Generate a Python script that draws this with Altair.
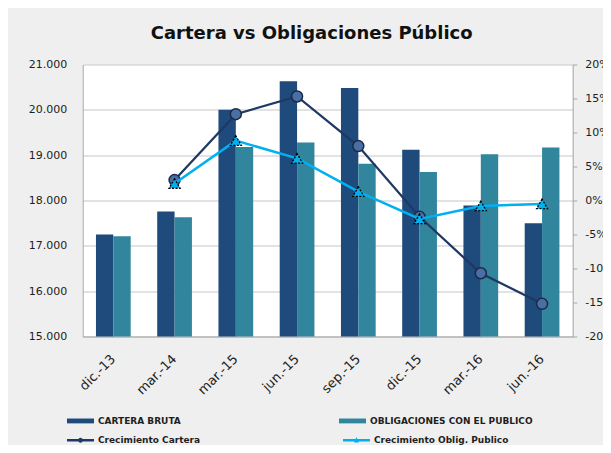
import altair as alt
import pandas as pd

categorias = ["dic.-13", "mar.-14", "mar.-15", "jun.-15", "sep.-15", "dic.-15", "mar.-16", "jun.-16"]
cartera_bruta = [17250, 17760, 20000, 20630, 20480, 19120, 17890, 17500]
obligaciones = [17210, 17630, 19180, 19280, 18810, 18630, 19020, 19170]
crec_cartera = [None, 0.030, 0.127, 0.153, 0.080, -0.024, -0.107, -0.152]
crec_oblig = [None, 0.025, 0.088, 0.062, 0.013, -0.027, -0.008, -0.005]
series_barras = ["CARTERA BRUTA", "OBLIGACIONES CON EL PUBLICO"]
series_lineas = ["Crecimiento Cartera", "Crecimiento Oblig. Publico"]
ticks_izq = [15000, 16000, 17000, 18000, 19000, 20000, 21000]
ticks_der = [-0.20, -0.15, -0.10, -0.05, 0.0, 0.05, 0.10, 0.15, 0.20]

bars_df = pd.DataFrame({
    "cat": categorias * 2,
    "serie": [series_barras[0]] * len(categorias) + [series_barras[1]] * len(categorias),
    "valor": cartera_bruta + obligaciones,
})
lines_df = pd.DataFrame({
    "cat": categorias * 2,
    "serie": [series_lineas[0]] * len(categorias) + [series_lineas[1]] * len(categorias),
    "pct": crec_cartera + crec_oblig,
}).dropna()

FONT = "DejaVu Sans"
TXT = "#1e1e1e"

x_enc = alt.X(
    "cat:N", sort=categorias,
    scale=alt.Scale(paddingInner=0.433, paddingOuter=0.2165),
    axis=alt.Axis(title=None, labelAngle=-45, labelAlign="right", labelBaseline="middle",
                  labelFontSize=13, labelPadding=20, ticks=False, tickSize=0,
                  domainColor="#a6a6a6", labelColor=TXT, labelFont=FONT),
)

y_left = alt.Y(
    "valor:Q",
    scale=alt.Scale(domain=[15000, 21000], nice=False, zero=False),
    axis=alt.Axis(title=None, values=ticks_izq,
                  labelExpr="replace(format(datum.value, ','), ',', '.')",
                  ticks=False, tickSize=0, labelPadding=16, labelFontSize=11,
                  labelColor=TXT, labelFont=FONT, gridColor="#c6c6c6",
                  domainColor="#a6a6a6"),
)

y_right = alt.Y(
    "pct:Q",
    scale=alt.Scale(domain=[-0.2, 0.2], nice=False, zero=False),
    axis=alt.Axis(title=None, orient="right", values=ticks_der, grid=False,
                  labelExpr="round(datum.value * 100) + '%'",
                  ticks=True, tickSize=4, tickColor="#a6a6a6", labelPadding=8,
                  labelFontSize=11, labelColor=TXT, labelFont=FONT,
                  domainColor="#a6a6a6"),
)

legend_common = dict(
    orient="none", columns=2, title=None, padding=0, labelOffset=4,
    labelFont=FONT, labelFontWeight="bold", labelFontSize=9, labelColor=TXT,
    labelLimit=400, symbolStrokeWidth=0, symbolSize=729,
)

bars = alt.Chart(bars_df).mark_bar(opacity=1, clip=True).encode(
    x=x_enc,
    xOffset=alt.XOffset("serie:N", sort=series_barras,
                        scale=alt.Scale(paddingInner=0, paddingOuter=0)),
    y=y_left,
    color=alt.Color(
        "serie:N",
        scale=alt.Scale(domain=series_barras, range=["#1F4A7C", "#31859C"]),
        legend=alt.Legend(legendX=-15.7, legendY=342.7, columnPadding=158,
                          symbolType="M-1,-0.18H1V0.18H-1Z", **legend_common),
    ),
)

line_c = alt.Chart(lines_df).transform_filter(
    alt.datum.serie == series_lineas[0]
).mark_line(color="#1F3864", strokeWidth=2.25, opacity=1).encode(x=x_enc, y=y_right)

pts_c = alt.Chart(lines_df).transform_filter(
    alt.datum.serie == series_lineas[0]
).mark_point(shape="circle", filled=True, fill="#4A6FA5", stroke="#1B2A47",
             strokeWidth=1.5, size=121, opacity=1).encode(x=x_enc, y=y_right)

line_o = alt.Chart(lines_df).transform_filter(
    alt.datum.serie == series_lineas[1]
).mark_line(color="#00B0F0", strokeWidth=2.5, opacity=1).encode(x=x_enc, y=y_right)

pts_o = alt.Chart(lines_df).transform_filter(
    alt.datum.serie == series_lineas[1]
).mark_point(shape="triangle-up", filled=True, fill="#00B0F0", stroke="#000000",
             strokeWidth=1.3, strokeDash=[2, 1.5], size=121, opacity=1).encode(x=x_enc, y=y_right)

path_c = ("M-1,-0.09H1V0.09H-1Z "
          "M0.18,0A0.18,0.18 0 1,1 -0.18,0A0.18,0.18 0 1,1 0.18,0Z")
path_o = ("M-1,-0.09H1V0.09H-1Z "
          "M0,-0.24L0.18,0.16L-0.18,0.16Z")

legend_lines = alt.Chart(lines_df).transform_filter("false").mark_point(
    filled=True, opacity=1, size=729
).encode(
    x=x_enc, y=y_right,
    color=alt.Color(
        "serie:N",
        scale=alt.Scale(domain=series_lineas, range=["#1F3864", "#00B0F0"]),
        legend=alt.Legend(legendX=-15.7, legendY=362, columnPadding=142, **legend_common),
    ),
    shape=alt.Shape(
        "serie:N",
        scale=alt.Scale(domain=series_lineas, range=[path_c, path_o]),
        legend=alt.Legend(legendX=-15.7, legendY=362, columnPadding=142, **legend_common),
    ),
)

right = alt.layer(line_c, pts_c, line_o, pts_o, legend_lines)

chart = alt.layer(bars, right).resolve_scale(
    y="independent", color="independent", shape="independent"
).properties(
    width=490,
    height=272,
    autosize=alt.AutoSizeParams(type="none"),
    padding={"left": 74.7, "top": 56.5, "right": 30, "bottom": 108},
    title=alt.TitleParams(
        "Cartera vs Obligaciones Público", font=FONT, fontSize=18, fontWeight="bold",
        color="#111111", anchor="middle", frame="group", dx=-16, offset=2,
        baseline="alphabetic",
    ),
).configure(
    background="#efefef",
).configure_view(
    fill="#ffffff", stroke=None,
)

chart.save("out.html", embed_options={"renderer": "svg", "actions": False})
